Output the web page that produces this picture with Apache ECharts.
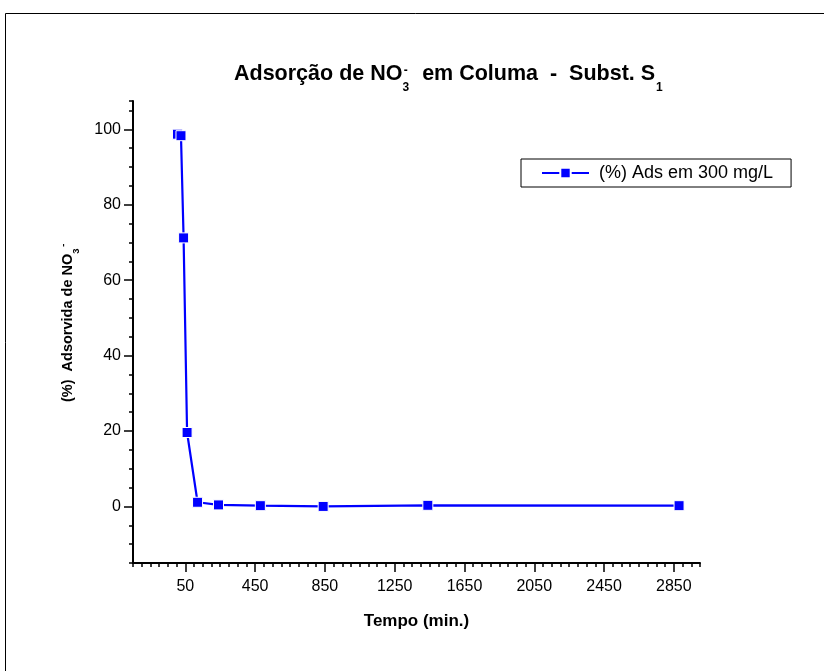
<!DOCTYPE html>
<html>
<head>
<meta charset="utf-8">
<script src="https://cdn.jsdelivr.net/npm/echarts@6/dist/echarts.min.js"></script>
<style>
html,body{margin:0;padding:0;background:#fff;}
#chart{width:824px;height:671px;}
</style>
</head>
<body>
<div id="chart"></div>
<script>
// ---- data ----
const timeMin = [5, 25, 40, 60, 120, 240, 480, 840, 1440, 2880];
const adsPct  = [98.7, 98.3, 71.2, 19.6, 1.1, 0.4, 0.2, 0.0, 0.3, 0.2];
const xTickLabels = [50, 450, 850, 1250, 1650, 2050, 2450, 2850];
const yTickLabels = [0, 20, 40, 60, 80, 100];
const seriesName = '(%) Ads em 300 mg/L';

const FONT = '"Liberation Sans", Arial, Helvetica, sans-serif';
const ctx = document.createElement('canvas').getContext('2d');
function tw(text, size, weight) {
  ctx.font = (weight || 'normal') + ' ' + size + 'px ' + FONT;
  return ctx.measureText(text).width;
}
function txt(text, x, y, size, weight, align) {
  return {
    type: 'text', x: x, y: y, silent: true,
    style: { text: text, font: (weight || 'normal') + ' ' + size + 'px ' + FONT,
             fill: '#000', align: align || 'left', verticalAlign: 'middle' }
  };
}

// Title pieces
const tSize = 21.5, tSub = 12;
const tX0 = 234, tMid = 74.5;
const p1 = 'Adsorção de NO', p2 = 'em Columa  -  Subst. S';
const p1w = tw(p1, tSize, 'bold');
const s3w = tw('3', tSub, 'bold');
const subX = tX0 + p1w;
const p2x = subX + s3w + 13;
const p2w = tw(p2, tSize, 'bold');
const titleEls = [
  txt(p1, tX0, tMid, tSize, 'bold'),
  txt('3', subX, tMid + 13, tSub, 'bold'),
  txt('-', subX + s3w / 2, tMid - 4, tSub, 'bold', 'center'),
  txt(p2, p2x, tMid, tSize, 'bold'),
  txt('1', p2x + p2w + 1, tMid + 13, tSub, 'bold')
];

// Y axis title pieces (drawn in a rotated group)
const ySize = 14.5, ySub = 9.5;
const yp1 = '(%)  Adsorvida de NO';
const yp1w = tw(yp1, ySize, 'bold');
const yTitleGroup = {
  type: 'group', x: 68, y: 402, rotation: Math.PI / 2,
  children: [
    txt(yp1, 0, 0, ySize, 'bold'),
    txt('3', yp1w, 8, ySub, 'bold'),
    txt('-', yp1w + 7, -5, ySub, 'bold')
  ]
};

const chart = echarts.init(document.getElementById('chart'), null, { renderer: 'canvas' });
const axisColor = '#000';
const plain = v => String(v);
const option = {
  backgroundColor: '#fff',
  animation: false,
  textStyle: { fontFamily: FONT },
  grid: { left: 133, top: 101, right: 124, bottom: 108, containLabel: false },
  legend: {
    show: true,
    data: [seriesName],
    left: 521, top: 159,
    orient: 'horizontal',
    padding: [5, 18, 5, 20],
    borderColor: '#000', borderWidth: 1,
    itemWidth: 47, itemHeight: 13,
    textStyle: { fontSize: 18, color: '#000', fontFamily: FONT, padding: [0, 0, 0, 5], lineHeight: 17 }
  },
  xAxis: [
    {
      type: 'value', min: -250, max: 3000, interval: 50, position: 'bottom',
      axisLine: { show: true, onZero: false, lineStyle: { color: axisColor, width: 2 } },
      axisTick: { show: true, length: 4, lineStyle: { color: axisColor, width: 1.5 } },
      axisLabel: { show: false },
      splitLine: { show: false }
    },
    {
      type: 'value', min: -250, max: 3000, position: 'bottom',
      axisLine: { show: false, onZero: false },
      axisTick: { show: true, length: 9, customValues: xTickLabels, lineStyle: { color: axisColor, width: 1.5 } },
      axisLabel: { show: true, customValues: xTickLabels, formatter: plain, fontSize: 16, color: '#000', margin: 16, fontFamily: FONT },
      splitLine: { show: false },
      name: 'Tempo (min.)', nameLocation: 'middle', nameGap: 50,
      nameTextStyle: { fontSize: 17, fontWeight: 'bold', color: '#000', fontFamily: FONT }
    }
  ],
  yAxis: [
    {
      type: 'value', min: -15, max: 107.5, interval: 5, position: 'left',
      axisLine: { show: true, onZero: false, lineStyle: { color: axisColor, width: 2 } },
      axisTick: { show: true, length: 4, lineStyle: { color: axisColor, width: 1.5 } },
      axisLabel: { show: false },
      splitLine: { show: false }
    },
    {
      type: 'value', min: -15, max: 107.5, position: 'left',
      axisLine: { show: false, onZero: false },
      axisTick: { show: true, length: 9, customValues: yTickLabels, lineStyle: { color: axisColor, width: 1.5 } },
      axisLabel: { show: true, customValues: yTickLabels, formatter: plain, fontSize: 16, color: '#000', margin: 12, fontFamily: FONT },
      splitLine: { show: false }
    }
  ],
  series: [{
    name: seriesName,
    type: 'line',
    xAxisIndex: 0, yAxisIndex: 0,
    data: timeMin.map((t, i) => [t, adsPct[i]]),
    symbol: 'rect', symbolSize: 10,
    showSymbol: true,
    color: '#0000ff',
    lineStyle: { color: '#0000ff', width: 2.2 },
    itemStyle: { color: '#0000ff', borderColor: '#ffffff', borderWidth: 1 },
    emphasis: { disabled: true }
  }],
  graphic: [
    { type: 'rect', silent: true, shape: { x: 5.5, y: 13.5, width: 840, height: 700 },
      style: { fill: 'none', stroke: '#000', lineWidth: 1 } }
  ].concat(titleEls).concat([yTitleGroup])
};
chart.setOption(option);
</script>
</body>
</html>
